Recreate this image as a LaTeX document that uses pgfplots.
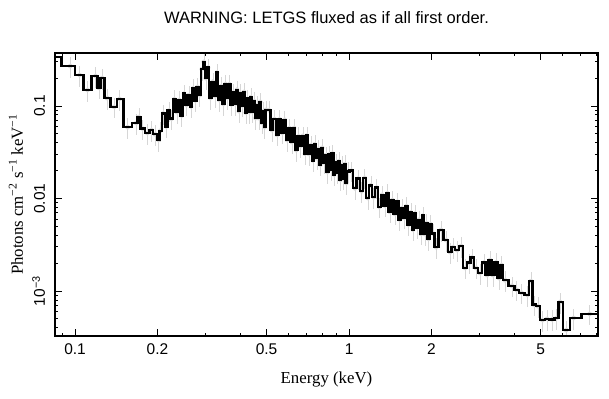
\documentclass[border=0pt]{standalone}
\usepackage{fontspec}
\setmainfont{Liberation Sans}
\newfontfamily\timesfont{Liberation Serif}
\usepackage{pgfplots}
\pgfplotsset{compat=1.18}
\usepackage{pgfplotstable}
\pgfplotstableread{
E f
0.0830 0.339
0.0960 0.270
0.1039 0.216
0.1110 0.149
0.1188 0.211
0.1224 0.157
0.1255 0.200
0.1308 0.122
0.1388 0.098
0.1454 0.119
0.1555 0.059
0.1672 0.0655
0.1708 0.076
0.1764 0.057
0.1837 0.0510
0.1902 0.055
0.1959 0.0495
0.2017 0.0429
0.205 0.054
0.210 0.083
0.215 0.060
0.220 0.089
0.225 0.073
0.230 0.118
0.235 0.086
0.240 0.116
0.245 0.079
0.250 0.136
0.255 0.103
0.260 0.131
0.265 0.099
0.270 0.155
0.275 0.115
0.280 0.161
0.285 0.131
0.290 0.250
0.295 0.300
0.300 0.200
0.306 0.260
0.312 0.122
0.318 0.183
0.324 0.128
0.330 0.230
0.336 0.116
0.342 0.164
0.348 0.105
0.354 0.173
0.360 0.122
0.366 0.172
0.372 0.104
0.378 0.140
0.384 0.105
0.390 0.150
0.396 0.088
0.402 0.138
0.408 0.101
0.414 0.142
0.420 0.085
0.426 0.120
0.432 0.086
0.438 0.124
0.444 0.087
0.450 0.113
0.456 0.074
0.462 0.102
0.468 0.074
0.474 0.111
0.480 0.066
0.486 0.088
0.492 0.059
0.498 0.091
0.510 0.090
0.522 0.0549
0.534 0.0721
0.546 0.0488
0.558 0.0716
0.570 0.0514
0.582 0.0710
0.594 0.0429
0.606 0.0576
0.618 0.0409
0.630 0.0578
0.642 0.0333
0.654 0.0470
0.666 0.0370
0.678 0.0475
0.690 0.0306
0.702 0.0478
0.714 0.0303
0.726 0.0377
0.738 0.0259
0.750 0.0385
0.762 0.0273
0.774 0.0345
0.786 0.0233
0.798 0.0353
0.810 0.0246
0.822 0.0292
0.834 0.0193
0.846 0.0299
0.858 0.0206
0.870 0.0306
0.882 0.0182
0.894 0.0244
0.906 0.0190
0.918 0.0252
0.930 0.0159
0.942 0.0229
0.954 0.0164
0.966 0.0235
0.978 0.0147
0.990 0.0197
1.02 0.0200
1.05 0.01292
1.08 0.01639
1.11 0.01199
1.14 0.01671
1.17 0.01015
1.20 0.01388
1.23 0.01033
1.26 0.01313
1.29 0.00814
1.32 0.01097
1.35 0.00839
1.38 0.01140
1.41 0.00717
1.44 0.00964
1.47 0.00683
1.50 0.00926
1.53 0.00594
1.56 0.00785
1.59 0.00618
1.62 0.00828
1.65 0.00523
1.68 0.00708
1.71 0.00463
1.74 0.00689
1.77 0.00488
1.80 0.00590
1.83 0.00415
1.86 0.00653
1.89 0.00413
1.92 0.00542
1.95 0.00366
1.98 0.00532
2.026 0.00420
2.077 0.00298
2.167 0.00457
2.258 0.00356
2.336 0.00264
2.396 0.00298
2.479 0.00277
2.565 0.00307
2.650 0.00178
2.740 0.00203
2.810 0.00230
2.907 0.00178
3.000 0.00157
3.110 0.00203
3.190 0.00149
3.270 0.00216
3.350 0.00149
3.440 0.00204
3.530 0.00138
3.600 0.00191
3.710 0.00131
3.930 0.00114
4.090 0.00103
4.260 0.00096
4.480 0.000906
4.610 0.00128
4.730 0.000713
4.890 0.000686
5.080 0.000486
5.280 0.000500
5.510 0.000494
5.720 0.000512
5.890 0.000763
6.200 0.000379
6.600 0.000512
7.550 0.000567
8.300 0.000567
}\spec
\begin{document}
\begin{tikzpicture}
\useasboundingbox (-55pt,-62pt) rectangle (554pt,336pt);
\begin{axis}[
  scale only axis, width=543pt, height=283pt,
  at={(0pt,0pt)}, anchor=south west,
  xmode=log, ymode=log,
  xmin=0.0845, xmax=8.1, ymin=3.27e-4, ymax=0.374,
  hide axis]
\addplot[black!16, line width=0.6pt, only marks, mark=none,
  error bars/.cd, y dir=both, y fixed relative=0.25, error mark=none]
  table[x=E, y=f] {\spec};
\end{axis}
\begin{axis}[
  scale only axis, width=543pt, height=283pt,
  at={(0pt,0pt)}, anchor=south west,
  xmode=log, ymode=log,
  xmin=0.0845, xmax=8.1, ymin=3.27e-4, ymax=0.374,
  axis line style={line width=1.5pt},
  tick align=inside,
  major tick length=7pt, minor tick length=3.5pt,
  every tick/.style={black, line width=1pt},
  xtick={0.1,0.2,0.5,1,2,5}, xticklabels={0.1,0.2,0.5,1,2,5},
  minor xtick={0.09,0.3,0.4,0.6,0.7,0.8,0.9,3,4,6,7,8},
  ytick={0.001,0.01,0.1}, yticklabels={10\textsuperscript{−3},0.01,0.1},
  minor ytick={4e-4,5e-4,6e-4,7e-4,8e-4,9e-4,0.002,0.003,0.004,0.005,0.006,0.007,0.008,0.009,0.02,0.03,0.04,0.05,0.06,0.07,0.08,0.09,0.2,0.3},
  tick label style={font=\fontsize{15.5}{18}\selectfont},
  xticklabel style={anchor=base, yshift=-18pt},
  yticklabel style={xshift=-10pt, rotate=90, anchor=base},
  title={WARNING: LETGS fluxed as if all first order.},
  every axis title/.style={at={(axis description cs:0.5,1)}, anchor=base, yshift=30pt, font=\fontsize{16.5}{19}\selectfont},
  xlabel={Energy (keV)},
  every axis x label/.style={at={(axis description cs:0.5,0)}, anchor=base, yshift=-47pt, font=\timesfont\fontsize{16.8}{20}\selectfont},
  ylabel={Photons cm\textsuperscript{−2} s\textsuperscript{−1} keV\textsuperscript{−1}},
  every axis y label/.style={at={(axis description cs:0,0.5)}, xshift=-32pt, rotate=90, anchor=base, font=\timesfont\fontsize{16.8}{20}\selectfont},
]
\addplot[black, line width=2.4pt, const plot mark mid, line join=miter] table[x=E, y=f] {\spec};
\end{axis}
\end{tikzpicture}
\end{document}
